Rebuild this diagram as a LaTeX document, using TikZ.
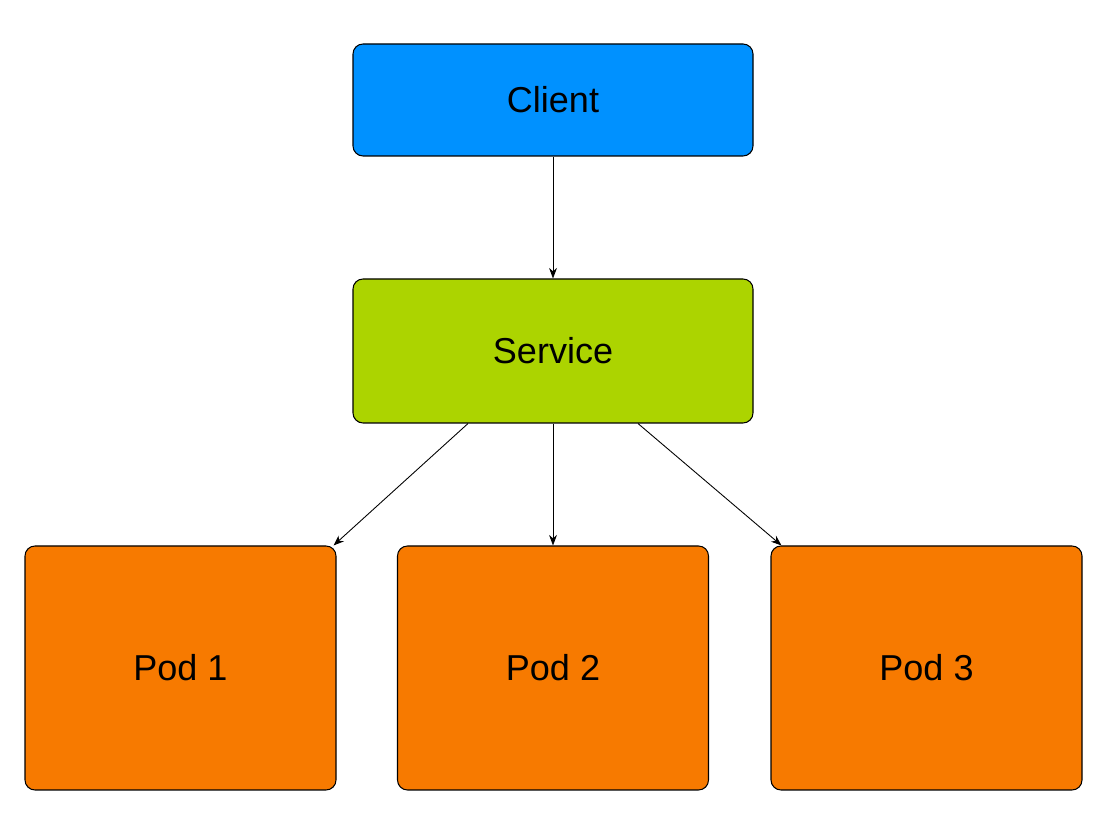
\documentclass[tikz,border=0pt]{standalone}
\usepackage{fontspec}
\setmainfont{Liberation Sans}
\usetikzlibrary{arrows.meta}
\definecolor{clientblue}{RGB}{0,145,255}
\definecolor{servicegreen}{RGB}{172,212,0}
\definecolor{podorange}{RGB}{247,122,0}
\tikzset{
  box/.style={draw=black, line width=0.6pt, rounded corners=0.2cm,
    font=\fontsize{20.5}{24}\selectfont, inner sep=0pt},
  podbox/.style={box, fill=podorange, minimum width=6.22cm, minimum height=4.88cm},
  link/.style={-{Stealth[length=6pt,width=4.5pt]}, line width=0.5pt}
}
\begin{document}
\begin{tikzpicture}
                \useasboundingbox (0,0) rectangle (22.4,16.4);

                \node[box, fill=clientblue, minimum width=8cm, minimum height=2.24cm] (client) at (11.06, 14.4) {Client};
                \node[box, fill=servicegreen, minimum width=8cm, minimum height=2.88cm] (service) at (11.06, 9.38) {Service};

                \node[podbox] (pod1) at (3.61, 3.04) {Pod 1};
                \node[podbox] (pod2) at (11.06, 3.04) {Pod 2};
                \node[podbox] (pod3) at (18.53, 3.04) {Pod 3};

                \draw[link] (client.south) -- (service.north);
                \draw[link] ([xshift=-1.7cm]service.south) -- ([xshift=-0.06cm]pod1.north east);
                \draw[link] (service.south) -- (pod2.north);
                \draw[link] ([xshift=1.7cm]service.south) -- ([xshift=0.22cm]pod3.north west);
\end{tikzpicture}
\end{document}
